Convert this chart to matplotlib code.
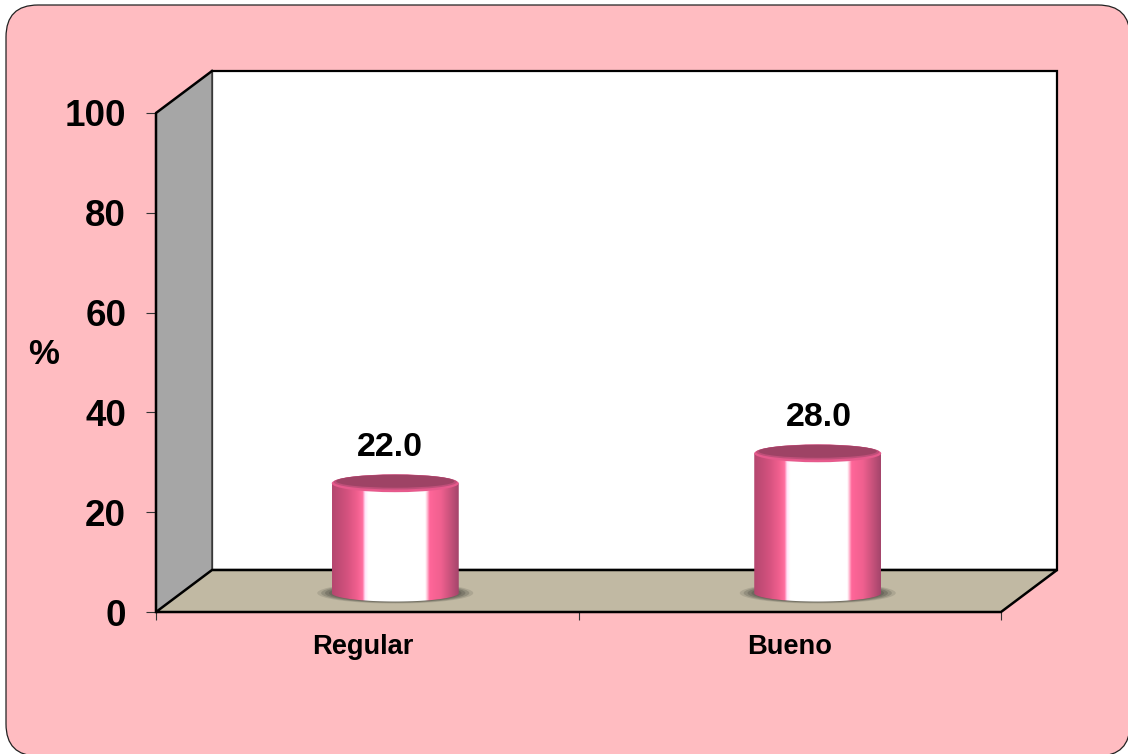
import numpy as np
import matplotlib
matplotlib.use("Agg")
import matplotlib.pyplot as plt
from matplotlib.colors import LinearSegmentedColormap
from matplotlib.patches import Ellipse, FancyBboxPatch, Polygon, PathPatch
from matplotlib.path import Path
from matplotlib.transforms import ScaledTranslation

plt.rcParams['font.family'] = ['Liberation Sans', 'DejaVu Sans']

categories = ["Regular", "Bueno"]
values = [22.0, 28.0]
y_ticks = [0, 20, 40, 60, 80, 100]

W, H = 1128, 754
fig = plt.figure(figsize=(W / 100, H / 100), dpi=100)
fig.patch.set_facecolor("white")

# background panel, in pixels
bg = fig.add_axes([0, 0, 1, 1])
bg.set_xlim(0, W)
bg.set_ylim(H, 0)
bg.axis("off")
bg.add_patch(FancyBboxPatch((6, 5), 1124, 751, boxstyle="round,pad=0,rounding_size=32",
                            fc="#ffbcc1", ec="#222222", lw=0.9))

# plot area: y=0 at 612px, y=100 at 113px
left, right, bottom, top = 156, 1001, 612, 113
ax = fig.add_axes([left / W, 1 - bottom / H, (right - left) / W, (bottom - top) / H])
ax.patch.set_alpha(0)

px_x = len(categories) / (right - left)
px_y = 100 / (bottom - top)
dx = 56 * px_x
dy = 42 * px_y
x_end = len(categories)

# walls
ax.add_patch(Polygon([(dx, dy), (x_end + dx, dy), (x_end + dx, 100 + dy), (dx, 100 + dy)],
                     closed=True, fc="white", ec="black", lw=1.6, clip_on=False, zorder=1))
ax.add_patch(Polygon([(0, 0), (dx, dy), (dx, 100 + dy), (0, 100)],
                     closed=True, fc="#a6a6a6", ec="none", clip_on=False, zorder=2))
ax.plot([dx, dx], [dy, 100 + dy], color="#444444", lw=1.2, clip_on=False, zorder=2)
ax.plot([0, 0, dx], [0, 100, 100 + dy], color="black", lw=1.8, clip_on=False, zorder=3)
ax.add_patch(Polygon([(0, 0), (x_end, 0), (x_end + dx, dy), (dx, dy)],
                     closed=True, fc="#c1b9a3", ec="black", lw=1.8, clip_on=False, zorder=2))

# cylinders
body_cmap = LinearSegmentedColormap.from_list("body", [
    (0.00, "#b5476f"), (0.12, "#d4527f"), (0.20, "#f2608f"), (0.24, "#ff6fa0"),
    (0.26, "#ffe6fb"), (0.285, "#ffffff"), (0.735, "#ffffff"), (0.75, "#ffc4d8"),
    (0.77, "#ff6699"), (0.86, "#f0608f"), (1.00, "#a4456b")])
grad = np.linspace(0, 1, 256).reshape(1, -1)

half_w = 63.5 * px_x
ell_h = 8.5 * px_y
base = 3.8
t = np.linspace(0, np.pi, 60)
label_shift = [-5, 1]

for i, v in enumerate(values):
    cx = i + 0.5 + 28 * px_x
    ytop = v + base
    # floor shadow, stacked to soften the edge
    for k, a in zip([1.0, 0.95, 0.9, 0.85, 0.8], [0.2, 0.3, 0.4, 0.5, 0.6]):
        ax.add_patch(Ellipse((cx, base), 2 * 78 * px_x * k, 2 * 10.5 * px_y * k,
                             fc="#5c5a50", ec="none", alpha=a, clip_on=False, zorder=4))
    # body outline: bottom arc then flat top, the cap covers the rest
    xs = np.concatenate([cx - half_w * np.cos(t), [cx + half_w, cx - half_w]])
    ys = np.concatenate([base - ell_h * np.sin(t), [ytop, ytop]])
    path = Path(np.column_stack([xs, ys]), closed=False)
    im = ax.imshow(grad, extent=[cx - half_w, cx + half_w, base - ell_h, ytop],
                   cmap=body_cmap, aspect="auto", zorder=5, clip_on=True)
    patch = PathPatch(path, fc="none", ec="none", transform=ax.transData)
    ax.add_patch(patch)
    im.set_clip_path(patch)
    im.set_clip_on(True)
    # top cap
    ax.add_patch(Ellipse((cx, ytop), 2 * half_w, 2 * ell_h * 1.05, fc="#e65a8c", ec="none",
                         clip_on=False, zorder=6))
    ax.add_patch(Ellipse((cx, ytop + 0.25), 2 * half_w * 0.97, 2 * ell_h * 0.88, fc="#bf4f79", ec="none",
                         clip_on=False, zorder=6))
    ax.add_patch(Ellipse((cx, ytop + 0.4), 2 * half_w * 0.93, 2 * ell_h * 0.76, fc="#9e4365", ec="none",
                         clip_on=False, zorder=6))
    ax.text(cx + label_shift[i] * px_x, v + 10.9, "%.1f" % v, ha="center", va="center",
            fontsize=24.5, fontweight="bold", color="black", zorder=7)

ax.set_xlim(0, x_end)
ax.set_ylim(0, 100)

for s in ax.spines.values():
    s.set_visible(False)

ax.set_yticks(y_ticks)
ax.set_yticklabels([str(y) for y in y_ticks], fontsize=26.5, fontweight="bold")
ax.tick_params(axis="y", length=7.5, width=0.8, color="#333333", pad=14)
ax.set_xticks(range(len(categories) + 1))
ax.set_xticklabels([])
ax.tick_params(axis="x", which="major", length=5.5, width=0.8, color="#333333")
ax.set_xticks(np.arange(len(categories)) + 0.5, minor=True)
ax.set_xticklabels(categories, minor=True, fontsize=19.6, fontweight="bold")
ax.tick_params(axis="x", which="minor", length=0, pad=16)
lab = ax.get_xticklabels(minor=True)[0]
lab.set_transform(lab.get_transform() + ScaledTranslation(-4 / 100, 0, fig.dpi_scale_trans))

ax.text(-112 * px_x, 100 * (bottom - 354) / (bottom - top), "%", ha="center", va="center",
        fontsize=25, fontweight="bold")

fig.savefig("out.png", dpi=100)
